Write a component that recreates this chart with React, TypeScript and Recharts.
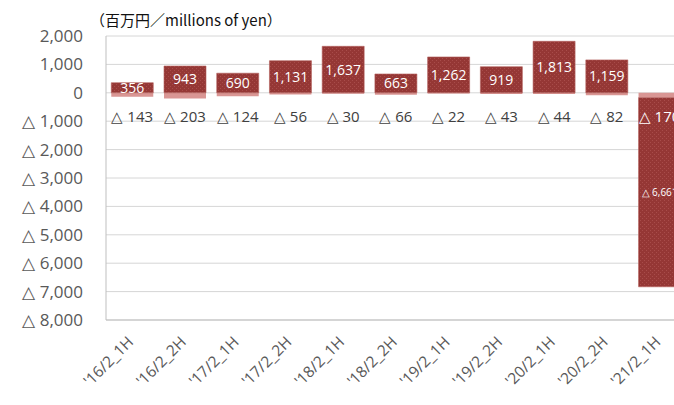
import React from 'react'
import { Bar, BarChart, CartesianGrid, LabelList, XAxis, YAxis } from 'recharts'

// half-year periods
const periods = [
  "'16/2_1H",
  "'16/2_2H",
  "'17/2_1H",
  "'17/2_2H",
  "'18/2_1H",
  "'18/2_2H",
  "'19/2_1H",
  "'19/2_2H",
  "'20/2_1H",
  "'20/2_2H",
  "'21/2_1H",
]

// millions of yen
const profit = [356, 943, 690, 1131, 1637, 663, 1262, 919, 1813, 1159, -6661]
const loss = [-143, -203, -124, -56, -30, -66, -22, -43, -44, -82, -170]

const yTicks = [2000, 1000, 0, -1000, -2000, -3000, -4000, -5000, -6000, -7000, -8000]

const data = periods.map((period, i) => ({
  period,
  profit: profit[i],
  loss: loss[i],
}))

const FONT = '"Open Sans", "Noto Sans", sans-serif'

const fmt = (v: number) =>
  v < 0 ? `△ ${Math.abs(v).toLocaleString('en-US')}` : v.toLocaleString('en-US')

function barBox(props: any) {
  const vb = props.viewBox ?? props
  const x = Number(vb.x)
  const y = Number(vb.y)
  const w = Number(vb.width)
  const h = Number(vb.height)
  return { cx: x + w / 2, top: Math.min(y, y + h), bottom: Math.max(y, y + h) }
}

const ProfitLabel = (props: any) => {
  const { cx, top, bottom } = barBox(props)
  const v = Number(props.value)
  const neg = v < 0
  return (
    <text
      x={cx}
      y={(top + bottom) / 2}
      dy={neg ? 4 : 5}
      textAnchor="middle"
      fill="#fff"
      fontFamily={FONT}
      fontSize={neg ? 10 : 14}
    >
      {fmt(v)}
    </text>
  )
}

const LossLabel = (props: any) => {
  const { cx, top } = barBox(props)
  const i = Number(props.index)
  return (
    <text
      x={cx}
      y={top + 29}
      textAnchor="middle"
      fill={profit[i] < 0 ? '#fff' : '#404040'}
      fontFamily={FONT}
      fontSize={15}
    >
      {fmt(Number(props.value))}
    </text>
  )
}

const PeriodTick = ({ x, y, payload }: any) => (
  <text
    transform={`translate(${x + 2},${y + 15}) rotate(-45)`}
    textAnchor="end"
    fill="#595959"
    fontFamily={FONT}
    fontSize={15.5}
  >
    {payload.value}
  </text>
)

export default function App() {
  return (
    <div
      style={{
        position: 'relative',
        width: 674,
        height: 405,
        overflow: 'hidden',
        background: '#fff',
      }}
    >
      <style>{'body{margin:0}'}</style>
      <div
        style={{
          position: 'absolute',
          left: 90,
          top: 12,
          fontFamily: '"Noto Sans CJK JP", sans-serif',
          fontSize: 15,
          lineHeight: '16px',
          color: '#111',
          whiteSpace: 'nowrap',
        }}
      >
        （百万円／millions of yen）
      </div>
      <div style={{ position: 'absolute', left: 8, top: 8 }}>
        <BarChart
          width={678}
          height={397}
          data={data}
          stackOffset="sign"
          barCategoryGap="10%"
          margin={{ top: 28, right: 0, bottom: 0, left: 0 }}
        >
          <defs>
            <pattern id="darkDots" width="4" height="4" patternUnits="userSpaceOnUse">
              <rect width="4" height="4" fill="#953735" />
              <rect x="0" y="0" width="1" height="1" fill="#a84c4a" />
              <rect x="2" y="2" width="1" height="1" fill="#a84c4a" />
            </pattern>
          </defs>
          <CartesianGrid vertical={false} stroke="#d6d6d6" />
          <XAxis
            dataKey="period"
            height={85}
            interval={0}
            tick={<PeriodTick />}
            tickLine={false}
            axisLine={{ stroke: '#bfbfbf' }}
          />
          <YAxis
            width={98}
            domain={[-8000, 2000]}
            ticks={yTicks}
            interval={0}
            tickFormatter={fmt}
            tickLine={false}
            tickMargin={17}
            axisLine={{ stroke: '#bfbfbf' }}
            tick={{ fill: '#595959', fontSize: 17, fontFamily: FONT }}
          />
          <Bar dataKey="loss" stackId="pl" fill="#d99694" isAnimationActive={false}>
            <LabelList dataKey="loss" content={<LossLabel />} />
          </Bar>
          <Bar
            dataKey="profit"
            stackId="pl"
            fill="url(#darkDots)"
            stroke="#b45f5d"
            strokeWidth={0.6}
            isAnimationActive={false}
          >
            <LabelList dataKey="profit" content={<ProfitLabel />} />
          </Bar>
        </BarChart>
      </div>
    </div>
  )
}
